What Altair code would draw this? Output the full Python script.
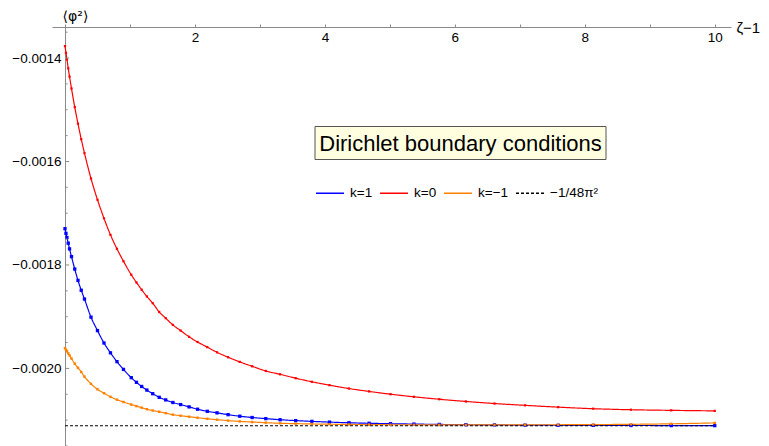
import altair as alt
import pandas as pd

# ---- data ----
x_vals = [0, 0.015, 0.03, 0.05, 0.07, 0.1, 0.15, 0.2, 0.25, 0.3, 0.4, 0.5, 0.6, 0.7, 0.8, 0.9,
          1.02, 1.10, 1.18, 1.26, 1.35, 1.45, 1.55, 1.66, 1.78, 1.91, 2.04, 2.19, 2.34, 2.51,
          2.69, 2.88, 3.09, 3.31, 3.55, 3.80, 4.07, 4.37, 4.68, 5.01, 5.37, 5.76, 6.17, 6.61,
          7.08, 7.59, 8.13, 8.71, 9.33, 10.0]

y_k1 = [-0.0017299, -0.0017389, -0.0017469, -0.0017579, -0.0017689, -0.0017839, -0.0018079,
        -0.0018299, -0.0018489, -0.0018659, -0.0019009, -0.0019269, -0.0019509, -0.0019699,
        -0.0019869, -0.0020019, -0.0020179, -0.0020269, -0.0020349, -0.0020419, -0.0020489,
        -0.0020559, -0.0020609, -0.0020659, -0.0020699, -0.0020744, -0.0020789, -0.0020829,
        -0.0020859, -0.0020894, -0.0020924, -0.0020949, -0.0020971, -0.0020992, -0.0021009,
        -0.0021024, -0.0021038, -0.0021051, -0.0021061, -0.0021069, -0.0021076, -0.0021083,
        -0.0021088, -0.0021092, -0.0021096, -0.0021099, -0.0021101, -0.0021103, -0.0021105,
        -0.0021106]

y_k0 = [-0.0013769, -0.0013899, -0.0014029, -0.0014199, -0.0014359, -0.0014589, -0.0014949,
        -0.0015269, -0.0015569, -0.0015839, -0.0016329, -0.0016739, -0.0017099, -0.0017419,
        -0.0017689, -0.0017929, -0.0018189, -0.0018339, -0.0018479, -0.0018609, -0.0018739,
        -0.0018909, -0.0019029, -0.0019159, -0.0019269, -0.0019389, -0.0019489, -0.0019589,
        -0.0019689, -0.0019784, -0.0019874, -0.0019959, -0.0020049, -0.0020114, -0.0020189,
        -0.0020259, -0.0020324, -0.0020389, -0.0020445, -0.0020499, -0.0020549, -0.0020596,
        -0.0020639, -0.0020679, -0.0020714, -0.0020749, -0.0020779, -0.0020799, -0.0020811,
        -0.0020821]

y_km1 = [-0.0019609, -0.0019639, -0.0019669, -0.0019709, -0.0019749, -0.0019809, -0.0019909,
         -0.0019989, -0.0020069, -0.0020159, -0.0020299, -0.0020404, -0.0020479, -0.0020549,
         -0.0020604, -0.0020649, -0.0020699, -0.0020729, -0.0020759, -0.0020789, -0.0020814,
         -0.0020839, -0.0020864, -0.0020894, -0.0020914, -0.0020934, -0.0020954, -0.0020974,
         -0.0020991, -0.0021009, -0.0021024, -0.0021037, -0.0021049, -0.0021061, -0.0021068,
         -0.0021074, -0.0021079, -0.0021083, -0.0021086, -0.0021089, -0.0021090, -0.0021091,
         -0.0021091, -0.0021091, -0.0021090, -0.0021089, -0.0021086, -0.0021081, -0.0021071,
         -0.0021054]

ref_x = [0, 10]
ref_y = [-0.00211086, -0.00211086]   # -1/(48 pi^2)

series_names = ["k=1", "k=0", "k=\u22121", "\u22121/48\u03c0\u00b2"]
series_colors = ["#0000FF", "#FF0000", "#FF8000", "#000000"]
series_dash = [[1, 0], [1, 0], [1, 0], [3, 2]]
marker_sizes = [11, 5, 6]

x_ticks = [0, 0.5, 1, 1.5, 2, 2.5, 3, 3.5, 4, 4.5, 5, 5.5, 6, 6.5, 7, 7.5, 8, 8.5, 9, 9.5, 10]
y_major = [-0.0014, -0.0016, -0.0018, -0.0020]
y_minor = [-0.00135, -0.00145, -0.0015, -0.00155, -0.00165, -0.0017, -0.00175, -0.00185,
           -0.0019, -0.00195, -0.00205, -0.0021, -0.00215]

# ---- tables ----
rows = []
for name, col, ms, ys in zip(series_names[:3], series_colors[:3], marker_sizes, [y_k1, y_k0, y_km1]):
    for xv, yv in zip(x_vals, ys):
        rows.append({"x": xv, "y": yv, "series": name, "col": col, "ms": ms})
for xv, yv in zip(ref_x, ref_y):
    rows.append({"x": xv, "y": yv, "series": series_names[3], "col": series_colors[3], "ms": 0})
df = pd.DataFrame(rows)
df_pts = df[df["series"] != series_names[3]]

font = "Liberation Sans"
axis_gray = "#8a8a8a"

xscale = alt.Scale(domain=[-0.2, 10.25], nice=False, zero=False)
yscale = alt.Scale(domain=[-0.00215, -0.00134], nice=False, zero=False)

legend = alt.Legend(orient="none", legendX=263, legendY=151, direction="horizontal", title=None,
                    symbolType="stroke", symbolSize=784, symbolStrokeWidth=1.5,
                    labelFont=font, labelFontSize=13.5, labelOffset=5, columnPadding=4,
                    padding=0, labelLimit=0)

x_axis = alt.Axis(
    orient="top", values=x_ticks, format="~g",
    labelExpr="(datum.value > 0 && datum.value % 2 === 0) ? datum.label : ''",
    title="\u03b6\u22121", titleX=684, titleY=0, titleAlign="left", titleBaseline="middle",
    titleAngle=0, titleFontWeight="normal", titleFontSize=15, titleFont=font,
    domainColor=axis_gray, tickColor=axis_gray, tickSize=3, grid=False,
    labelBaseline="top", labelPadding=-6, labelFontSize=13.5, labelFont=font,
    labelColor="#000000", labelFlush=False)

y_axis = alt.Axis(
    orient="left", offset=-13, values=y_major, format=".4f", ticks=False,
    labelPadding=4, labelFontSize=13.5, labelFont=font, labelColor="#000000",
    domainColor=axis_gray, grid=False,
    title="\u27e8\u03c6\u00b2\u27e9", titleAngle=0, titleX=10, titleY=-7,
    titleAlign="center", titleBaseline="alphabetic", titleFontWeight="normal",
    titleFontSize=14, titleFont="DejaVu Sans")

lines = alt.Chart(df).mark_line(strokeWidth=1.2, interpolate="monotone").encode(
    x=alt.X("x:Q", scale=xscale, axis=x_axis),
    y=alt.Y("y:Q", scale=yscale, axis=y_axis),
    color=alt.Color("series:N", scale=alt.Scale(domain=series_names, range=series_colors), legend=legend),
    strokeDash=alt.StrokeDash("series:N", scale=alt.Scale(domain=series_names, range=series_dash), legend=legend),
)

points = alt.Chart(df_pts).mark_square(opacity=1, filled=True).encode(
    x=alt.X("x:Q", scale=xscale, axis=x_axis),
    y=alt.Y("y:Q", scale=yscale, axis=y_axis),
    color=alt.Color("col:N", scale=None),
    size=alt.Size("ms:Q", scale=None),
)

major_ticks = alt.Chart(pd.DataFrame({"y": y_major})).mark_rule(color=axis_gray, strokeWidth=1).encode(
    y=alt.Y("y:Q", scale=yscale, axis=y_axis),
    x=alt.datum(0),
    x2=alt.datum(0.065),
)
minor_ticks = alt.Chart(pd.DataFrame({"y": y_minor})).mark_rule(color=axis_gray, strokeWidth=1).encode(
    y=alt.Y("y:Q", scale=yscale, axis=y_axis),
    x=alt.datum(0),
    x2=alt.datum(0.04),
)

note = pd.DataFrame({"t": ["Dirichlet boundary conditions"]})
box = alt.Chart(note).mark_rect(fill="#FFFFE0", stroke="#555555", strokeWidth=1).encode(
    x=alt.value(263), x2=alt.value(554), y=alt.value(99.5), y2=alt.value(132.5))
box_text = alt.Chart(note).mark_text(font=font, fontSize=22, align="center", baseline="middle",
                                      color="#000000").encode(
    x=alt.value(408.5), y=alt.value(117), text="t:N")

chart = alt.layer(lines, points, major_ticks, minor_ticks, box, box_text).properties(
    width=679, height=419,
    autosize=alt.AutoSizeParams(type="none"),
    padding={"left": 44, "top": 19, "right": 30, "bottom": 0},
    background="white",
).configure_view(stroke=None)

chart.save("out.html", embed_options={"renderer": "svg", "actions": False})
